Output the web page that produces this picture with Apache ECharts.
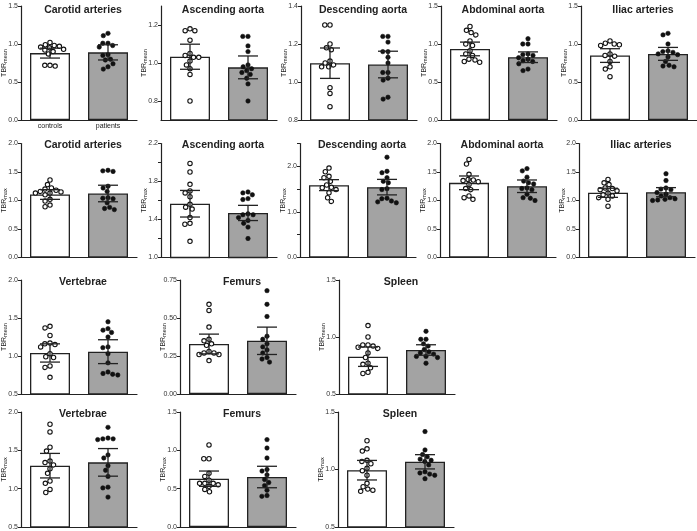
<!DOCTYPE html>
<html><head><meta charset="utf-8">
<script src="https://cdn.jsdelivr.net/npm/echarts@6/dist/echarts.min.js"></script>
<style>html,body{margin:0;padding:0;background:#fff}#c{width:697px;height:531px}</style>
</head><body><div id="c"></div>
<script>
// ---------- DATA ----------
const panelTitles = ['Carotid arteries','Ascending aorta','Descending aorta','Abdominal aorta','Iliac arteries',
  'Carotid arteries','Ascending aorta','Descending aorta','Abdominal aorta','Iliac arteries',
  'Vertebrae','Femurs','Spleen','Vertebrae','Femurs','Spleen'];
const panelMetric = ['mean','mean','mean','mean','mean','max','max','max','max','max','mean','mean','mean','max','max','max'];
const groupNames = ['controls','patients'];

const ctrlCarotidMean = [1.02,0.99,0.98,0.97,0.96,0.95,0.93,0.92,0.90,0.87,0.72,0.72,0.71];
const patCarotidMean  = [1.14,1.11,1.01,1.01,0.98,0.96,0.86,0.85,0.80,0.79,0.74,0.70,0.67];
const ctrlAscMean = [1.18,1.17,1.17,1.12,1.05,1.04,1.03,1.03,1.01,0.99,0.97,0.94,0.80];
const patAscMean  = [1.14,1.14,1.09,1.06,0.99,0.98,0.97,0.96,0.95,0.94,0.92,0.89,0.80];
const ctrlDescMean = [1.30,1.30,1.20,1.18,1.17,1.11,1.10,1.09,1.08,1.08,0.97,0.94,0.87];
const patDescMean  = [1.24,1.24,1.21,1.16,1.16,1.13,1.10,1.05,1.05,1.02,1.01,0.92,0.91];
const ctrlAbdMean = [1.23,1.18,1.15,1.12,1.04,1.00,0.98,0.91,0.87,0.85,0.80,0.79,0.77,0.76];
const patAbdMean  = [1.07,1.00,1.00,0.87,0.86,0.85,0.82,0.80,0.78,0.77,0.74,0.67,0.65];
const ctrlIliacMean = [1.04,1.01,1.00,0.99,0.98,0.87,0.85,0.84,0.77,0.70,0.67,0.57];
const patIliacMean  = [1.14,1.12,1.00,0.91,0.90,0.89,0.87,0.86,0.83,0.77,0.72,0.71,0.70];

const ctrlCarotidMax = [1.36,1.28,1.22,1.20,1.18,1.16,1.15,1.13,1.13,1.10,1.02,0.99,0.92,0.89];
const patCarotidMax  = [1.53,1.52,1.51,1.25,1.22,1.16,1.05,1.04,1.03,0.96,0.88,0.86,0.84];
const ctrlAscMax = [1.99,1.90,1.77,1.70,1.68,1.64,1.56,1.53,1.51,1.42,1.36,1.35,1.17];
const patAscMax  = [1.69,1.68,1.66,1.62,1.61,1.46,1.45,1.45,1.42,1.39,1.36,1.32,1.20];
const ctrlDescMax = [1.96,1.88,1.78,1.75,1.67,1.59,1.54,1.53,1.49,1.42,1.31,1.23];
const patDescMax  = [2.20,1.89,1.86,1.75,1.67,1.64,1.51,1.49,1.30,1.29,1.24,1.22,1.20];
const ctrlAbdMax = [1.72,1.64,1.46,1.37,1.36,1.35,1.33,1.28,1.21,1.19,1.08,1.05,1.02];
const patAbdMax  = [1.56,1.52,1.41,1.34,1.31,1.29,1.22,1.21,1.19,1.11,1.05,1.04,1.00];
const ctrlIliacMax = [1.37,1.31,1.28,1.22,1.21,1.19,1.17,1.13,1.10,1.08,1.05,1.02,0.90];
const patIliacMax  = [1.47,1.35,1.22,1.20,1.19,1.14,1.11,1.08,1.05,1.03,1.02,1.01,1.00];

const ctrlVertMean = [1.39,1.37,1.27,1.17,1.16,1.15,1.12,1.03,0.99,0.98,0.87,0.85,0.72];
const patVertMean  = [1.45,1.36,1.34,1.31,1.25,1.12,1.11,1.03,0.91,0.79,0.77,0.76,0.75];
const ctrlFemurMean = [0.59,0.55,0.44,0.36,0.35,0.33,0.32,0.28,0.27,0.27,0.26,0.26,0.22];
const patFemurMean  = [0.68,0.59,0.51,0.38,0.36,0.33,0.31,0.29,0.27,0.24,0.23,0.21];
const ctrlSpleenMean = [1.10,1.00,0.93,0.93,0.92,0.91,0.90,0.86,0.82,0.77,0.76,0.73,0.69,0.68];
const patSpleenMean  = [1.05,0.98,0.98,0.94,0.92,0.89,0.87,0.86,0.85,0.83,0.83,0.82,0.77];

const ctrlVertMax = [1.84,1.74,1.54,1.49,1.36,1.34,1.31,1.26,1.20,1.10,1.07,0.99,0.95];
const patVertMax  = [1.80,1.66,1.65,1.65,1.64,1.44,1.40,1.30,1.24,1.16,1.02,1.01,0.89];
const ctrlFemurMax = [1.07,0.89,0.89,0.70,0.66,0.61,0.57,0.57,0.57,0.55,0.53,0.49,0.46];
const patFemurMax  = [1.14,1.03,0.90,0.75,0.73,0.68,0.62,0.58,0.54,0.48,0.41,0.40];
const ctrlSpleenMax = [1.25,1.18,1.16,1.08,1.07,1.05,1.01,0.99,0.95,0.88,0.85,0.83,0.82,0.81];
const patSpleenMax  = [1.33,1.17,1.13,1.11,1.09,1.08,1.07,1.04,0.98,0.97,0.96,0.95,0.92];

const ctrlMeans = [0.88,1.033,1.099,0.935,0.848, 1.105,1.566,1.587,1.31,1.135, 1.04,0.329,0.827, 1.30,0.63,0.994];
const patMeans  = [0.89,0.977,1.092,0.826,0.87, 1.123,1.469,1.543,1.25,1.146, 1.057,0.35,0.886, 1.343,0.652,1.067];
const ctrlSD = [0.065,0.066,0.08,0.09,0.09, 0.085,0.14,0.12,0.12,0.08, 0.12,0.065,0.085, 0.16,0.10,0.085];
const patSD  = [0.10,0.06,0.07,0.07,0.085, 0.145,0.08,0.17,0.11,0.08, 0.157,0.09,0.046, 0.18,0.14,0.062];

const yMins = [0,0.7,0.8,0,0, 0,1.0,0,0,0, 0.5,0,0.5, 0.5,0,0.5];
const yMaxs = [1.5,1.3,1.4,1.5,1.5, 2,2.2,2.5,2,2, 2,0.75,1.5, 2,1.5,1.5];
const yLabelTicks = [
  [0,0.5,1,1.5],[0.8,1.0,1.2],[0.8,1.0,1.2,1.4],[0,0.5,1,1.5],[0,0.5,1,1.5],
  [0,0.5,1,1.5,2],[1.0,1.4,1.8,2.2],[0,1,2],[0,0.5,1,1.5,2],[0,0.5,1,1.5,2],
  [0.5,1,1.5,2],[0,0.25,0.5,0.75],[0.5,1,1.5],
  [0.5,1,1.5,2],[0,0.5,1,1.5],[0.5,1,1.5]];
const yMinorTicks = [[],[],[],[],[], [],[1.2,1.6,2.0],[0.5,1.5,2.5],[],[], [],[],[], [],[],[]];
const yDecimals = [1,1,1,1,1, 1,1,1,1,1, 1,2,1, 1,1,1];

const ctrlPoints = [ctrlCarotidMean,ctrlAscMean,ctrlDescMean,ctrlAbdMean,ctrlIliacMean,
  ctrlCarotidMax,ctrlAscMax,ctrlDescMax,ctrlAbdMax,ctrlIliacMax,
  ctrlVertMean,ctrlFemurMean,ctrlSpleenMean,ctrlVertMax,ctrlFemurMax,ctrlSpleenMax];
const patPoints = [patCarotidMean,patAscMean,patDescMean,patAbdMean,patIliacMean,
  patCarotidMax,patAscMax,patDescMax,patAbdMax,patIliacMax,
  patVertMean,patFemurMean,patSpleenMean,patVertMax,patFemurMax,patSpleenMax];

// ---------- LAYOUT ----------
const rowTop = [6,143.5,280,412];
const rowH = [114,114,114,115];
const colLeft = [[21,161,301,441,581],[21,161,300,440,579],[21,180,339],[21,180,338]];
const plotW = 116;
const FONT = '"Liberation Sans", Arial, sans-serif';
const INK = '#222';

const panels = [];
colLeft.forEach((cols,r)=>cols.forEach(l=>panels.push({left:l, top:rowTop[r], h:rowH[r], row:r})));

function swarm(vals, ppu, D){
  const order = vals.map((v,i)=>i).sort((a,b)=>vals[b]-vals[a]);
  const placed = []; const off = new Array(vals.length).fill(0);
  order.forEach(i=>{
    const y = vals[i]*ppu;
    const blocks = [];
    placed.forEach(p=>{const dy=Math.abs(p.y-y); if(dy<D){const dx=Math.sqrt(D*D-dy*dy); blocks.push([p.x-dx,p.x+dx]);}});
    const cands=[0]; blocks.forEach(b=>cands.push(b[0],b[1]));
    cands.sort((a,b)=>(Math.abs(a)-Math.abs(b))||(a-b));
    let x=0;
    for(const c of cands){ if(blocks.every(b=>c<=b[0]+1e-6||c>=b[1]-1e-6)){x=c;break;} }
    placed.push({x,y}); off[i]=x;
  });
  return off;
}

const grids=[], xAxes=[], yAxes=[], series=[], graphics=[];
panels.forEach((p,i)=>{
  grids.push({left:p.left, top:p.top, width:plotW, height:p.h, containLabel:false, outerBoundsMode:'none'});
  xAxes.push({type:'category', gridIndex:i, data:groupNames, boundaryGap:true,
    axisLine:{lineStyle:{color:INK,width:1.2}},
    axisTick:{alignWithLabel:true,length:3,lineStyle:{color:INK,width:1}},
    axisLabel:{show:i===0, fontSize:7, color:INK, fontFamily:FONT, margin:3},
    splitLine:{show:false}});
  const dec = yDecimals[i];
  yAxes.push({type:'value', gridIndex:i, min:yMins[i], max:yMaxs[i],
    name:'{a|TBR}{b|'+panelMetric[i]+'}', nameLocation:'middle', nameGap:13, nameRotate:90, nameMoveOverlap:false,
    nameTextStyle:{color:INK, fontFamily:FONT, rich:{a:{fontSize:7,fontFamily:FONT,color:INK},b:{fontSize:5.5,fontFamily:FONT,color:INK,padding:[2,0,0,0]}}},
    axisLine:{show:true,lineStyle:{color:INK,width:1.2}},
    axisTick:{show:true,length:3,lineStyle:{color:INK,width:1},customValues:yLabelTicks[i].concat(yMinorTicks[i])},
    axisLabel:{fontSize:7,color:'#333',fontFamily:FONT,margin:3,customValues:yLabelTicks[i],formatter:v=>Number(v).toFixed(dec)},
    splitLine:{show:false}});
  series.push({type:'bar', xAxisIndex:i, yAxisIndex:i, barWidth:40, z:2,
    data:[{value:ctrlMeans[i],itemStyle:{color:'#ffffff'}},{value:patMeans[i],itemStyle:{color:'#a3a3a3'}}],
    itemStyle:{borderColor:INK,borderWidth:1.3}, silent:true});
  const ppu = p.h/(yMaxs[i]-yMins[i]);
  const D = 5.2;
  const oc = swarm(ctrlPoints[i], ppu, D), op = swarm(patPoints[i], ppu, D);
  const pts = ctrlPoints[i].map((v,k)=>[0,v,oc[k],0]).concat(patPoints[i].map((v,k)=>[1,v,op[k],1]));
  series.push({type:'custom', xAxisIndex:i, yAxisIndex:i, z:3, silent:true, data:pts,
    renderItem:(params,api)=>{
      const c = api.coord([api.value(0),api.value(1)]);
      const filled = api.value(3)===1;
      return {type:'circle', shape:{cx:c[0]+api.value(2), cy:c[1], r:2.2},
        style:{fill: filled?'#111':'#fff', stroke:'#111', lineWidth: filled?0.6:1.1}};
    }});
  series.push({type:'custom', xAxisIndex:i, yAxisIndex:i, z:4, silent:true,
    data:[[0,ctrlMeans[i],ctrlSD[i]],[1,patMeans[i],patSD[i]]],
    renderItem:(params,api)=>{
      const m=api.value(1), s=api.value(2);
      const hi=api.coord([api.value(0),m+s]), lo=api.coord([api.value(0),m-s]);
      const hw=10, st={stroke:INK,lineWidth:1.3};
      return {type:'group',children:[
        {type:'line',shape:{x1:hi[0],y1:hi[1],x2:lo[0],y2:lo[1]},style:st},
        {type:'line',shape:{x1:hi[0]-hw,y1:hi[1],x2:hi[0]+hw,y2:hi[1]},style:st},
        {type:'line',shape:{x1:lo[0]-hw,y1:lo[1],x2:lo[0]+hw,y2:lo[1]},style:st}]};
    }});
  graphics.push({type:'text', x:p.left+plotW/2+4, y:p.top+(p.row===0?4:2), z:10, silent:true,
    style:{text:panelTitles[i], textAlign:'center', textVerticalAlign:'middle',
      font:'bold 10.5px '+FONT, fill:INK}});
});

const chart = echarts.init(document.getElementById('c'), null, {renderer:'canvas'});
chart.setOption({animation:false, backgroundColor:'#fff', grid:grids, xAxis:xAxes, yAxis:yAxes, series:series, graphic:graphics});
</script></body></html>
